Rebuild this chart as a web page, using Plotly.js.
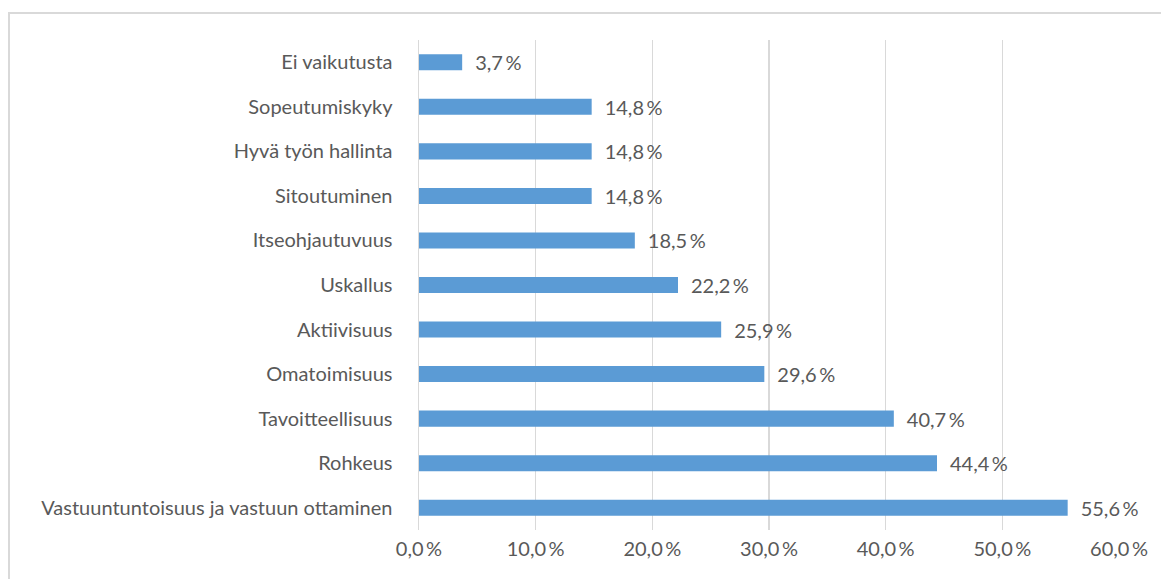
<!DOCTYPE html>
<html><head><meta charset="utf-8">
<script src="https://cdn.plot.ly/plotly-3.0.1.min.js"></script>
<style>
html,body{margin:0;padding:0;background:#fff;overflow:hidden;}
#frame{position:absolute;left:8px;top:12px;width:1300px;height:700px;border:2px solid #d9d9d9;box-sizing:border-box;}
#chart{position:absolute;left:0;top:0;width:1161px;height:579px;}
</style></head><body>
<div id="frame"></div>
<div id="chart"></div>
<script>
const categories = ["Vastuuntuntoisuus ja vastuun ottaminen","Rohkeus","Tavoitteellisuus","Omatoimisuus","Aktiivisuus","Uskallus","Itseohjautuvuus","Sitoutuminen","Hyvä työn hallinta","Sopeutumiskyky","Ei vaikutusta"];
const values = [55.6,44.4,40.7,29.6,25.9,22.2,18.5,14.8,14.8,14.8,3.7];
const tickValues = [0,10,20,30,40,50,60];

const fmt = v => v.toFixed(1).replace('.', ',') + '\u2009%';
const font = {family: "Lato, sans-serif", size: 20, color: "#595959"};

Plotly.newPlot('chart', [{
  type: 'bar', orientation: 'h',
  y: categories, x: values,
  text: values.map(v => '\u2002' + fmt(v)), textposition: 'outside', cliponaxis: false,
  constraintext: 'none',
  textfont: font,
  marker: {color: '#5b9bd5'},
  hoverinfo: 'none'
}], {
  width: 1161, height: 579,
  margin: {l: 419, r: 42, t: 40, b: 49},
  paper_bgcolor: 'rgba(0,0,0,0)', plot_bgcolor: 'rgba(0,0,0,0)',
  bargap: 0.64,
  showlegend: false,
  font: font,
  xaxis: {range: [0, 60], tickvals: tickValues, ticktext: tickValues.map(fmt),
    showgrid: true, gridcolor: '#d9d9d9', gridwidth: 1.5, zeroline: false, showline: false,
    ticks: '', tickfont: font, ticklabelstandoff: 5, fixedrange: true, automargin: false},
  yaxis: {type: 'category', showgrid: false, zeroline: false, showline: true, linecolor: '#d9d9d9', linewidth: 1.5,
    ticks: '', ticklabelstandoff: 21, tickfont: font, automargin: false}
}, {staticPlot: true});
</script></body></html>
